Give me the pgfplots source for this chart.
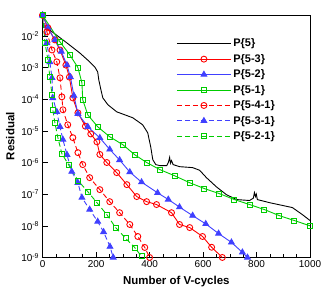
\documentclass[border=0pt]{standalone}
\usepackage{fontspec}
\setmainfont{Liberation Sans}
\usepackage{pgfplots}
\pgfplotsset{compat=1.18}
\definecolor{cred}{rgb}{1,0,0}
\definecolor{cblue}{rgb}{0.25,0.25,1}
\definecolor{cgreen}{rgb}{0,0.8,0}
\begin{document}
\begin{tikzpicture}
\begin{axis}[
 name=ax,
 scale only axis, width=268pt, height=243pt,
 xmin=0, xmax=1000, ymin=1e-9, ymax=0.046, ymode=log, log basis y=10,
 xtick={0,200,400,600,800,1000}, xticklabels={0,200,400,600,800,1000}, minor x tick num=3,
 ytickten={-9,-8,-7,-6,-5,-4,-3,-2},
 yticklabels={10\textsuperscript{-9},10\textsuperscript{-8},10\textsuperscript{-7},10\textsuperscript{-6},10\textsuperscript{-5},10\textsuperscript{-4},10\textsuperscript{-3},10\textsuperscript{-2}},
 tick align=inside, tick pos=left,
 major tick length=5pt, minor tick length=3pt,
 axis line style={line width=0.9pt},
 every tick/.style={black, line width=0.6pt},
 tick label style={font=\fontsize{10}{12}\selectfont},
 xlabel={Number of V-cycles}, ylabel={Residual},
 label style={font=\fontsize{11.5}{13}\selectfont\bfseries},
 xlabel style={yshift=-1pt},
 legend style={at={(0.5,0.91)}, anchor=north west, draw=none, fill=none,
   font=\fontsize{11}{13}\selectfont\bfseries, row sep=2pt, inner sep=0pt},
 legend cell align=left,
 legend image code/.code={\draw[mark repeat=2,mark phase=2,#1] plot coordinates {(0pt,0pt) (27pt,0pt) (54pt,0pt)};},
 every axis plot/.append style={line width=0.9pt},
]
% P{5}
\addplot[black, no marks] coordinates {
(0,4.5e-2) (2,2.2e-2) (91,6.0e-3) (139,2.9e-3) (176,1.52e-3) (195,1.05e-3) (206,7.3e-4)
(210,4.1e-4) (218,2.0e-4) (225,1.11e-4) (244,6.7e-5) (277,4.0e-5) (337,2.6e-5) (374,1.56e-5)
(393,8.7e-6) (404,3.2e-6) (412,1.23e-6) (423,8.6e-7) (438,8.0e-7) (464,8.0e-7) (470,9.9e-7)
(475,1.45e-6) (478,9.5e-7) (482,1.15e-6) (488,8.6e-7) (512,7.4e-7) (561,6.9e-7) (587,5.7e-7)
(613,3.3e-7) (650,1.7e-7) (687,9.7e-8) (725,6.75e-8) (774,6.3e-8) (788,7.5e-8) (792,1.12e-7)
(796,8.4e-8) (799,1.0e-7) (803,6.75e-8) (848,5.4e-8) (934,3.77e-8) (971,2.27e-8) (1000,1.47e-8)
};
\addlegendentry{P\{5\}}
% P{5-3}
\addplot[cred, mark=o, mark size=3pt, mark options={solid}] coordinates {
(0,4.5e-2) (20,1.8e-2) (46,7.5e-3) (65,3.6e-3) (87,1.2e-3) (100,5e-4) (113,1.1e-4)
(132,3.7e-5) (160,1.4e-5) (180,8e-6) (203,4.5e-6) (214,1.8e-6) (240,1e-6) (277,4.8e-7)
(315,2e-7) (352,8.4e-8) (389,5.8e-8) (426,4.7e-8) (482,2.6e-8) (512,1.1e-8) (550,8.8e-9)
(598,4.6e-9) (632,2.1e-9) (672,1e-9)
};
\addlegendentry{P\{5-3\}}
% P{5-2}
\addplot[cblue, mark=triangle*, mark size=3.3pt, mark options={solid}] coordinates {
(0,4.5e-2) (20,1.8e-2) (46,7.5e-3) (70,3.2e-3) (91,1.2e-3) (104,5e-4) (117,1.3e-4)
(132,3.5e-5) (169,1.35e-5) (214,6e-6) (251,2.6e-6) (288,1.2e-6) (326,5e-7) (370,2.4e-7)
(430,1.1e-7) (470,6.8e-8) (512,3.9e-8) (561,2.1e-8) (610,1.15e-8) (658,5.7e-9) (706,3e-9)
(747,1.45e-9) (766,1e-9)
};
\addlegendentry{P\{5-2\}}
% P{5-1}
\addplot[cgreen, mark=square, mark size=2.5pt, mark options={solid}] coordinates {
(0,4.5e-2) (65,6.5e-3) (102,2.5e-3) (132,1.0e-3) (147,3.3e-4) (150,9.6e-5) (169,3.2e-5)
(206,1.35e-5) (251,6.5e-6) (300,3.66e-6) (344,1.77e-6) (389,1.0e-6) (438,6.0e-7) (494,3.8e-7)
(550,2.3e-7) (605,1.5e-7) (661,1.04e-7) (717,6.75e-8) (774,4.7e-8) (829,3.27e-8) (885,2.1e-8)
(941,1.47e-8) (1000,1.0e-8)
};
\addlegendentry{P\{5-1\}}
% P{5-4-1}
\addplot[cred, dash pattern=on 5pt off 3pt, mark=o, mark size=3pt, mark options={solid}] coordinates {
(0,4.5e-2) (16,1.34e-2) (35,3.6e-3) (53,1.52e-3) (65,4.75e-4) (72,1.19e-4) (76,4.65e-5)
(94,1.56e-5) (113,6.1e-6) (132,2.05e-6) (150,8.6e-7) (176,3.33e-7) (214,1.39e-7) (251,5.8e-8)
(288,2.6e-8) (326,1.1e-8) (356,4.6e-9) (382,2.07e-9) (400,1e-9)
};
\addlegendentry{P\{5-4-1\}}
% P{5-3-1}
\addplot[cblue, dash pattern=on 5pt off 3pt, mark=triangle*, mark size=3.3pt, mark options={solid}] coordinates {
(0,4.5e-2) (16,6e-3) (27,1.5e-3) (35,4.75e-4) (38,1.1e-4) (53,4.0e-5) (65,1.35e-5)
(76,5.3e-6) (91,1.77e-6) (109,5.15e-7) (132,2.3e-7) (147,7.8e-8) (176,3.27e-8) (206,1.36e-8)
(228,6.4e-9) (252,2.2e-9) (264,1e-9)
};
\addlegendentry{P\{5-3-1\}}
% P{5-2-1}
\addplot[cgreen, dash pattern=on 5pt off 3pt, mark=square, mark size=2.5pt, mark options={solid}] coordinates {
(0,4.5e-2) (9,6.0e-3) (20,1.75e-3) (27,5.1e-4) (35,1.38e-4) (38,4.65e-5) (46,1.81e-5)
(57,6.1e-6) (72,1.9e-6) (98,8.3e-7) (132,2.7e-7) (169,1.2e-7) (203,5.4e-8) (240,2.27e-8)
(273,8.8e-9) (311,4.0e-9) (344,2.07e-9) (370,1.08e-9)
};
\addlegendentry{P\{5-2-1\}}
\end{axis}
\pgfresetboundingbox
\path ([shift={(-42.7pt,-33pt)}]ax.south west) rectangle ([shift={(17pt,15pt)}]ax.north east);
\end{tikzpicture}
\end{document}
